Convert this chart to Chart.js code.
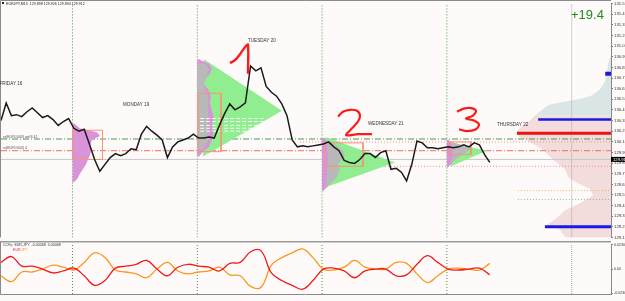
<!DOCTYPE html>
<html>
<head>
<meta charset="utf-8">
<script src="https://cdn.jsdelivr.net/npm/chart.js@4.4.0/dist/chart.umd.min.js"></script>
<style>
html,body{margin:0;padding:0;background:#fff;}
#wrap{position:relative;width:625px;height:301px;background:#fffafa;overflow:hidden;}
#main{position:absolute;left:0;top:0;}
#ind{position:absolute;left:0;top:241px;}
</style>
</head>
<body>
<div id="wrap">
<canvas id="main" width="625" height="241"></canvas>
<canvas id="ind" width="625" height="60"></canvas>
</div>
<script>
// hourly closes, hour 0 = 16 Apr 10:15
const closes = [130.320,130.502,130.371,130.381,130.361,130.411,130.451,130.401,130.351,130.371,
  130.330,130.270,130.310,130.341,130.240,130.210,130.230,130.078,129.917,129.796,
  129.867,129.937,129.978,129.957,129.978,130.028,130.018,130.179,130.260,130.210,
  130.169,130.119,129.937,130.048,130.099,130.119,130.139,130.179,130.139,130.139,
  130.149,130.139,130.270,130.391,130.492,130.431,130.462,130.502,130.885,130.834,
  130.865,130.673,130.613,130.572,130.492,130.371,130.119,130.048,130.058,130.048,
  130.058,130.068,130.078,130.099,130.048,130.008,129.907,129.887,129.877,129.917,
  129.978,129.978,129.937,129.988,130.008,129.816,129.826,129.786,129.695,129.867,
  130.109,130.089,130.038,130.038,130.028,130.038,130.048,130.038,130.048,130.068,
  130.048,130.089,130.068,129.968,129.887];

// CCFp indicator, every 2 hours
const eurLine = [0.0064,0.0120,0.0028,0.0028,0.0000,-0.0037,-0.0018,0.0009,-0.0064,-0.0156,
  -0.0110,0.0009,0.0028,0.0046,0.0083,0.0000,-0.0064,0.0018,0.0046,0.0028,
  0.0018,-0.0018,0.0055,0.0064,0.0166,0.0175,-0.0037,-0.0110,-0.0156,-0.0193,
  -0.0110,0.0000,0.0009,-0.0018,-0.0083,-0.0018,0.0000,0.0000,-0.0064,-0.0055,
  0.0046,0.0129,0.0064,0.0000,-0.0009,0.0000,0.0009,-0.0055];
const jpyLine = [-0.0064,-0.0120,-0.0028,-0.0028,0.0000,0.0037,0.0018,-0.0009,0.0064,0.0156,
  0.0110,-0.0009,-0.0028,-0.0046,-0.0083,0.0000,0.0064,-0.0018,-0.0046,-0.0028,
  -0.0018,0.0018,-0.0055,-0.0064,-0.0166,-0.0175,0.0037,0.0110,0.0156,0.0193,
  0.0110,0.0000,-0.0009,0.0018,0.0083,0.0018,0.0000,0.0000,0.0064,0.0055,
  -0.0046,-0.0129,-0.0064,0.0000,0.0009,0.0000,-0.0009,0.0055];

const xMax = 117.31;
const priceMin = 129.111, priceMax = 131.53;
const priceTicks = [131.530,131.420,131.310,131.200,131.090,130.980,130.870,130.760,130.650,130.540,
  130.430,130.320,130.210,130.100,129.990,129.880,129.770,129.660,129.550,129.440,129.330,129.220,129.110];
const lastPrice = 129.918;
const dayStarts = [13.75, 37.75, 61.75, 85.75];
const cursorHour = 109.75;

const dayNames = ['FRIDAY 16','MONDAY 19','TUESDAY 20','WEDNESDAY 21','THURSDAY 22'];
const dayNameHours = [-0.3, 23.46, 47.5, 70.58, 95.38];
const dayNamePrices = [130.70, 130.482, 131.147, 130.290, 130.280];

const timeLabels = ['16 Apr 2021','16 Apr 14:15','16 Apr 18:15','16 Apr 22:15','19 Apr 02:15','19 Apr 06:15',
  '19 Apr 10:15','19 Apr 14:15','19 Apr 18:15','19 Apr 22:15','20 Apr 02:15','20 Apr 06:15',
  '20 Apr 10:15','20 Apr 14:15','20 Apr 18:15','20 Apr 22:15','21 Apr 02:15','21 Apr 06:15',
  '21 Apr 10:15','21 Apr 14:15','21 Apr 18:15','21 Apr 22:15','22 Apr 02:15','22 Apr 06:15'];
const timeLabelHours = [0,4,8,12,16,20,24,28,32,36,40,44,48,52,56,60,64,68,72,76,80,84,88,92];

// levels
const levelGreen = 130.129, levelOrange = 130.008;
const boxTopLevel = 130.099, boxBottomLevel = 129.847;
const redLevel = 130.189, blueHigh = 130.330, blueLow = 129.222, blueTop = 130.804;
const orangeDot = 129.595, greenDot = 129.504;
const tueDashLevels = [130.341, 130.310, 130.270, 130.240, 130.210];

// day boxes
const boxStart = [13.75, 37.88, 62.31, 86.15];
const boxEnd = [19.52, 42.31, 69.62, 90.38];
const boxHigh = [130.220, 130.603, 130.089, 130.099];
const boxLow = [129.917, 129.998, 129.847, 129.968];

// triangles
const triHours = [[39.04,54.04,38.85],[62.5,75.77,62.69],[85.96,93.46,86.54]];
const triPrices = [[130.955,130.421,129.947],[130.149,129.887,129.635],[130.099,130.008,129.847]];

// day volume profiles
const monProfPrices = [130.290,130.240,130.199,130.159,130.119,130.068,130.018,129.968,129.917,129.867,129.816,129.766,129.716,129.685];
const monProfWidths = [0.3,1.4,4.7,5.3,3.75,3.4,3.6,3.4,3.0,2.6,2.0,1.4,0.9,0.3];
const tueProfPrices = [130.955,130.905,130.855,130.804,130.754,130.703,130.643,130.572,130.502,130.421,130.341,130.270,130.199,130.119,130.048,129.998,129.947];
const tueProfWidths = [0.33,2.25,2.8,2.45,1.5,1.1,2.05,2.6,2.45,2.8,3.2,2.8,3.2,2.8,2.25,1.1,0.33];
const tueGreyPrices = [130.905,130.855,130.804,130.673,130.572,130.421,130.270,130.119,130.018];
const tueGreyWidths = [1.67,2.25,1.87,1.29,2.06,2.25,2.25,2.25,0.9];
const wedProfPrices = [130.139,130.068,129.917,129.766,129.665,129.595];
const wedProfWidths = [0.37,0.94,1.13,0.94,0.75,0.37];
const wedGreyPrices = [130.119,130.068,130.018,129.968,129.917,129.867,129.816,129.766,129.716,129.665,129.615];
const wedGreyWidths = [0.75,2.67,3.83,4.40,3.83,3.06,3.44,3.06,2.67,1.52,0.75];
const thuProfPrices = [130.119,130.068,129.968,129.867,129.837];
const thuProfWidths = [0.4,0.98,1.17,0.79,0.2];
const thuGreyPrices = [130.099,130.048,130.018,129.988,129.937,129.887];
const thuGreyWidths = [0.98,4.06,4.44,3.67,2.13,0.98];

// market profile on the right
const mpTopPrices = [130.976,130.905,130.824,130.724,130.643,130.582,130.542,130.512,130.482,130.421,130.371];
const mpTopLeft = [117.12,116.74,116.54,116.15,115.2,113.7,111.3,108.0,105.2,103.85,102.69];
const mpLowPrices = [130.371,130.320,130.260,130.210,130.159,130.099,130.018,129.917,129.816,129.736,
  129.675,129.615,129.544,129.464,129.393,129.312,129.242,129.191,129.141,129.111];
const mpLowLeft = [102.69,101.73,100.19,99.23,99.42,101.73,104.23,106.15,108.46,109.04,
  110.77,113.27,113.85,111.35,108.46,106.92,105.0,107.5,108.08,108.65];

// hand drawn numbers
const oneHours = [44.04,45.0,45.96,46.73,47.5,47.5];
const onePrices = [130.915,130.945,131.006,131.066,131.107,130.804];
const twoHours = [64.81,65.77,67.12,68.46,69.04,68.65,67.5,66.35,68.65,71.35];
const twoPrices = [130.361,130.411,130.431,130.421,130.371,130.310,130.240,130.169,130.179,130.179];
const threeHours = [87.69,88.85,90.19,91.35,90.77,89.42,90.96,91.92,91.35,89.62,88.08];
const threePrices = [130.411,130.441,130.451,130.421,130.371,130.341,130.320,130.280,130.230,130.210,130.230];

const FONT = 'Liberation Sans';

function pts(hours, prices) { return hours.map((h, i) => ({x: h, y: prices[i]})); }

function line(data, color, width, order, dash) {
  return {data, borderColor: color, borderWidth: width, borderDash: dash || [], pointRadius: 0, fill: false, order, tension: 0};
}
function shape(data, color, order) {
  return {data, backgroundColor: color, borderColor: 'rgba(0,0,0,0)', borderWidth: 0, pointRadius: 0, fill: 'shape', order};
}
function profile(anchor, prices, widths, color, order) {
  const d = [{x: anchor, y: prices[0]}];
  prices.forEach((p, i) => d.push({x: anchor + widths[i], y: p}));
  d.push({x: anchor, y: prices[prices.length - 1]});
  return shape(d, color, order);
}
function hline(level, from, color, width, order, dash, to) {
  return line([{x: from, y: level}, {x: to === undefined ? xMax : to, y: level}], color, width, order, dash);
}
function vline(h, lo, hi, color, dash) {
  return line([{x: h, y: lo}, {x: h, y: hi}], color, 1, 85, dash);
}

const GREEN_TRI = '#90ee90', PURPLE = '#d993d9', GREY = '#b9b9b9', BOX = '#f59473';

const mainSets = [];
mainSets.push(shape([{x: xMax, y: mpTopPrices[0]}, ...pts(mpTopLeft, mpTopPrices), {x: xMax, y: mpTopPrices[mpTopPrices.length - 1]}], '#dae6e6', 95));
mainSets.push(shape([{x: xMax, y: mpLowPrices[0]}, ...pts(mpLowLeft, mpLowPrices), {x: xMax, y: mpLowPrices[mpLowPrices.length - 1]}], '#f3dcdc', 95));
dayStarts.forEach(h => mainSets.push(vline(h, priceMin, priceMax, '#3f9a3f', [1, 2])));
mainSets.push(vline(cursorHour, priceMin, priceMax, '#a8a8a8', [1, 1]));
mainSets.push(hline(lastPrice, 0, '#c8c8c8', 1, 84));
mainSets.push(hline(levelGreen, 0, '#4c9a4c', 1, 83, [6, 2, 1, 2]));
mainSets.push(hline(levelOrange, 0, '#f07050', 1, 83, [6, 2, 1, 2]));
mainSets.push(hline(boxTopLevel, 57.5, '#f08a80', 1, 83, [1, 2]));
mainSets.push(hline(boxBottomLevel, 62.3, '#f08a80', 1, 83, [1, 2]));
mainSets.push(hline(orangeDot, 99.4, '#f0b060', 1, 83, [1, 2]));
mainSets.push(hline(greenDot, 99.4, '#80b8a0', 1, 83, [1, 2]));
triHours.forEach((hs, i) => mainSets.push(shape(pts(hs, triPrices[i]), GREEN_TRI, 70)));
tueDashLevels.forEach(p => mainSets.push(hline(p, 38.3, 'rgba(255,255,255,0.9)', 1, 58, [4, 2], 50.5)));
mainSets.push(profile(13.75, monProfPrices, monProfWidths, PURPLE, 60));
mainSets.push(profile(37.75, tueProfPrices, tueProfWidths, PURPLE, 61));
mainSets.push(profile(37.75, tueGreyPrices, tueGreyWidths, GREY, 60));
mainSets.push(profile(61.75, wedGreyPrices, wedGreyWidths, GREY, 61));
mainSets.push(profile(61.75, wedProfPrices, wedProfWidths, PURPLE, 60));
mainSets.push(profile(85.75, thuGreyPrices, thuGreyWidths, GREY, 61));
mainSets.push(profile(85.75, thuProfPrices, thuProfWidths, PURPLE, 60));
boxStart.forEach((s, i) => {
  const e = boxEnd[i], hi = boxHigh[i], lo = boxLow[i];
  mainSets.push(line([{x: s, y: hi}, {x: e, y: hi}, {x: e, y: lo}, {x: s, y: lo}, {x: s, y: hi}], BOX, 1, 50));
});
mainSets.push(hline(redLevel, 99.23, '#ee1111', 3, 40));
mainSets.push(hline(blueHigh, 103.3, '#1a1ae8', 2.5, 40));
mainSets.push(hline(blueLow, 104.6, '#1a1ae8', 3, 40));
mainSets.push(hline(blueTop, 116.2, '#1a1ae8', 4, 40));
mainSets.push(line(closes.map((v, i) => ({x: i, y: v})), '#1a1a1a', 1.5, 10));
mainSets.push(Object.assign(line(pts(oneHours, onePrices), '#ff1a1a', 2.4, 5), {tension: 0.2}));
mainSets.push(Object.assign(line(pts(twoHours, twoPrices), '#ff1a1a', 2.2, 5), {tension: 0.3}));
mainSets.push(Object.assign(line(pts(threeHours, threePrices), '#ff1a1a', 2.2, 5), {tension: 0.3}));

const mainText = {
  id: 'mainText',
  afterDatasetsDraw(chart) {
    const {ctx, scales: {x, y}, chartArea: a} = chart;
    ctx.save();
    ctx.strokeStyle = '#8a8a8a';
    ctx.lineWidth = 1;
    ctx.beginPath();
    ctx.moveTo(0.5, a.bottom); ctx.lineTo(0.5, 0.5); ctx.lineTo(a.right, 0.5);
    ctx.stroke();
    ctx.textBaseline = 'middle';
    ctx.fillStyle = '#222';
    ctx.fillRect(2, 2, 2, 2);
    ctx.font = '3.6px ' + FONT;
    ctx.fillText('EURJPY,M15  129.898 129.926 129.894 129.912', 6, 3.5);
    ctx.font = '4.6px ' + FONT;
    ctx.fillStyle = '#333';
    dayNames.forEach((n, i) => ctx.fillText(n, x.getPixelForValue(dayNameHours[i]), y.getPixelForValue(dayNamePrices[i])));
    ctx.font = '3.6px ' + FONT;
    ctx.fillStyle = '#555';
    ctx.fillText('sr(EUR#003) wd 8.41', 3, y.getPixelForValue(levelGreen) - 2.5);
    ctx.fillText('sr(EUR#003) 4', 3, y.getPixelForValue(levelOrange) - 2.5);
    ctx.font = '13px ' + FONT;
    ctx.fillStyle = '#1e8c1e';
    ctx.fillText('+19.4', 571, 15);
    const py = y.getPixelForValue(lastPrice);
    ctx.fillStyle = '#000';
    ctx.fillRect(a.right, py - 2.5, 14, 5);
    ctx.fillStyle = '#fff';
    ctx.font = '4.2px ' + FONT;
    ctx.fillText(lastPrice.toFixed(3), a.right + 2, py);
    ctx.restore();
  }
};

new Chart(document.getElementById('main'), {
  type: 'line',
  data: {datasets: mainSets},
  options: {
    responsive: false,
    animation: false,
    layout: {padding: {left: 1, top: 0, right: 0, bottom: 1}},
    plugins: {legend: {display: false}, tooltip: {enabled: false}},
    scales: {
      x: {type: 'linear', min: 0, max: xMax, display: false},
      y: {
        position: 'right', min: priceMin, max: priceMax,
        afterBuildTicks: s => { s.ticks = priceTicks.map(v => ({value: v})); },
        afterFit: s => { s.width = 14; },
        grid: {drawOnChartArea: false, tickLength: 2, color: '#777'},
        border: {color: '#888'},
        ticks: {autoSkip: false, padding: 1, color: '#333', font: {family: FONT, size: 4.3}, callback: v => v.toFixed(3)}
      }
    }
  },
  plugins: [mainText]
});

const indMin = -0.0239, indMax = 0.0239;
const indTicks = [0.0231, 0, -0.0231];
const indTickLabels = ['0.023089', '0.00', '-0.023089'];

const indSets = [];
dayStarts.forEach(h => indSets.push(vline(h, indMin, indMax, '#3f9a3f', [1, 2])));
indSets.push(vline(cursorHour, indMin, indMax, '#a8a8a8', [1, 1]));
indSets.push(Object.assign(line(eurLine.map((v, i) => ({x: i * 2, y: v})), '#ee1c1c', 1.3, 10), {tension: 0.4}));
indSets.push(Object.assign(line(jpyLine.map((v, i) => ({x: i * 2, y: v})), '#f7981d', 1.3, 11), {tension: 0.4}));

const indText = {
  id: 'indText',
  afterDatasetsDraw(chart) {
    const {ctx, chartArea: a} = chart;
    ctx.save();
    ctx.fillStyle = '#9a9a9a';
    ctx.fillRect(0, 0, a.right, 1.5);
    ctx.strokeStyle = '#8a8a8a';
    ctx.lineWidth = 1;
    ctx.beginPath();
    ctx.moveTo(0.5, 1); ctx.lineTo(0.5, a.bottom + 0.5); ctx.lineTo(a.right, a.bottom + 0.5);
    ctx.stroke();
    ctx.textBaseline = 'middle';
    ctx.font = '3.6px ' + FONT;
    ctx.fillStyle = '#333';
    ctx.fillText('CCFp  EUR,JPY  -0.00068  0.00068', 3, 4);
    ctx.fillStyle = '#ee1c1c';
    ctx.fillText('EUR', 13, 8.5);
    ctx.fillStyle = '#f7981d';
    ctx.fillText('JPY', 21, 8.5);
    ctx.restore();
  }
};

new Chart(document.getElementById('ind'), {
  type: 'line',
  data: {datasets: indSets},
  options: {
    responsive: false,
    animation: false,
    layout: {padding: {left: 1, top: 1, right: 0, bottom: 0}},
    plugins: {legend: {display: false}, tooltip: {enabled: false}},
    scales: {
      x: {
        type: 'linear', min: 0, max: xMax,
        afterBuildTicks: s => { s.ticks = timeLabelHours.map(v => ({value: v})); },
        afterFit: s => { s.height = 7; },
        grid: {display: false},
        border: {display: false},
        ticks: {autoSkip: false, maxRotation: 0, align: 'start', padding: 1, color: '#333', font: {family: FONT, size: 3.8},
          callback: (v, i) => timeLabels[i]}
      },
      y: {
        position: 'right', min: indMin, max: indMax,
        afterBuildTicks: s => { s.ticks = indTicks.map(v => ({value: v})); },
        afterFit: s => { s.width = 14; },
        grid: {drawOnChartArea: false, tickLength: 2, color: '#777'},
        border: {color: '#888'},
        ticks: {autoSkip: false, padding: 1, color: '#333', font: {family: FONT, size: 3.6}, callback: (v, i) => indTickLabels[i]}
      }
    }
  },
  plugins: [indText]
});
</script>
</body>
</html>
